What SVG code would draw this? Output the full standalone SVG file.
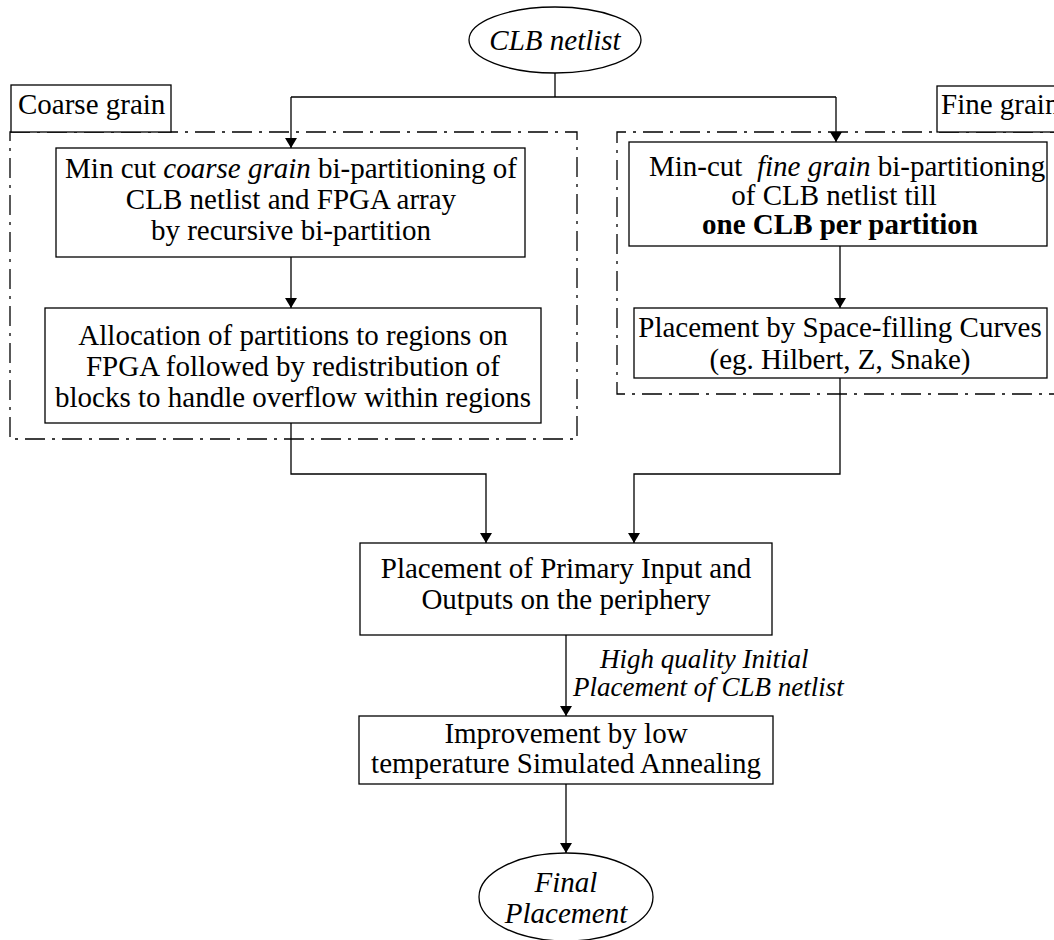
<svg xmlns="http://www.w3.org/2000/svg" width="1054" height="940" viewBox="0 0 1054 940">
  <style>
    text { font-family: "Liberation Serif", "Times New Roman", serif; font-size: 29px; fill: #000; }
    .c { text-anchor: middle; }
    .i { font-style: italic; }
    .b { font-weight: bold; }
    .lbl { font-size: 27px; font-style: italic; }
    .box { fill: #fff; stroke: #000; stroke-width: 1.3; }
    .grp { fill: none; stroke: #000; stroke-width: 1.3; stroke-dasharray: 20 7 3 7; }
    .wire { fill: none; stroke: #000; stroke-width: 1.3; }
  </style>
  <defs>
    <marker id="arrow" viewBox="0 0 10 12" refX="10" refY="6" markerWidth="10" markerHeight="12" markerUnits="userSpaceOnUse" orient="auto">
      <path d="M0,0 L10,6 L0,12 Z" fill="#000"/>
    </marker>
  </defs>
  <rect width="1054" height="940" fill="#fff"/>

  <!-- grouping frames -->
  <g id="coarse-grain-group">
    <rect class="grp" x="10" y="132" width="567" height="307"/>
    <rect class="box" x="11" y="85" width="160" height="47"/>
    <text x="18" y="114">Coarse grain</text>
  </g>
  <g id="fine-grain-group">
    <path class="grp" d="M1070,132 H617 V394 H1070"/>
    <rect class="box" x="937" y="86" width="140" height="46"/>
    <text x="941" y="114">Fine grain</text>
  </g>

  <!-- connectors -->
  <g id="connectors">
    <path class="wire" d="M555,73 V97"/>
    <path class="wire" d="M291,97 H836"/>
    <path class="wire" d="M291,97 V148" marker-end="url(#arrow)"/>
    <path class="wire" d="M836,97 V142" marker-end="url(#arrow)"/>
    <path class="wire" d="M291,257 V308" marker-end="url(#arrow)"/>
    <path class="wire" d="M840,246 V308" marker-end="url(#arrow)"/>
    <path class="wire" d="M291,423 V474 H486 V543" marker-end="url(#arrow)"/>
    <path class="wire" d="M840,378 V474 H634 V543" marker-end="url(#arrow)"/>
    <path class="wire" d="M566,635 V716" marker-end="url(#arrow)"/>
    <path class="wire" d="M566,784 V853" marker-end="url(#arrow)"/>
    <text class="lbl" x="600" y="668">High quality Initial</text>
    <text class="lbl" x="573" y="696">Placement of CLB netlist</text>
  </g>

  <!-- nodes -->
  <g id="clb-netlist">
    <ellipse class="box" cx="555" cy="40" rx="86" ry="33"/>
    <text class="c i" x="555" y="50">CLB netlist</text>
  </g>
  <g id="coarse-bipartition">
    <rect class="box" x="56" y="148" width="469" height="109"/>
    <text class="c" x="291" y="178">Min cut <tspan class="i">coarse grain</tspan> bi-partitioning of</text>
    <text class="c" x="291" y="209">CLB netlist and FPGA array</text>
    <text class="c" x="291" y="240">by recursive bi-partition</text>
  </g>
  <g id="allocation">
    <rect class="box" x="45" y="308" width="496" height="115"/>
    <text class="c" x="293" y="345">Allocation of partitions to regions on</text>
    <text class="c" x="293" y="376">FPGA followed by redistribution of</text>
    <text class="c" x="293" y="407">blocks to handle overflow within regions</text>
  </g>
  <g id="fine-bipartition">
    <rect class="box" x="629" y="142" width="418" height="104"/>
    <text x="649" y="176" xml:space="preserve">Min-cut  <tspan class="i">fine grain</tspan> bi-partitioning</text>
    <text class="c" x="834" y="205">of CLB netlist till</text>
    <text class="c b" x="840" y="234">one CLB per partition</text>
  </g>
  <g id="space-filling">
    <rect class="box" x="634" y="308" width="413" height="70"/>
    <text class="c" x="840" y="337">Placement by Space-filling Curves</text>
    <text class="c" x="840" y="369">(eg. Hilbert, Z, Snake)</text>
  </g>
  <g id="io-placement">
    <rect class="box" x="360" y="543" width="412" height="92"/>
    <text class="c" x="566" y="578">Placement of Primary Input and</text>
    <text class="c" x="566" y="609">Outputs on the periphery</text>
  </g>
  <g id="annealing">
    <rect class="box" x="359" y="716" width="414" height="68"/>
    <text class="c" x="566" y="743">Improvement by low</text>
    <text class="c" x="566" y="773">temperature Simulated Annealing</text>
  </g>
  <g id="final-placement">
    <ellipse class="box" cx="566" cy="897" rx="87" ry="44"/>
    <text class="c i" x="566" y="892">Final</text>
    <text class="c i" x="566" y="923">Placement</text>
  </g>
</svg>
